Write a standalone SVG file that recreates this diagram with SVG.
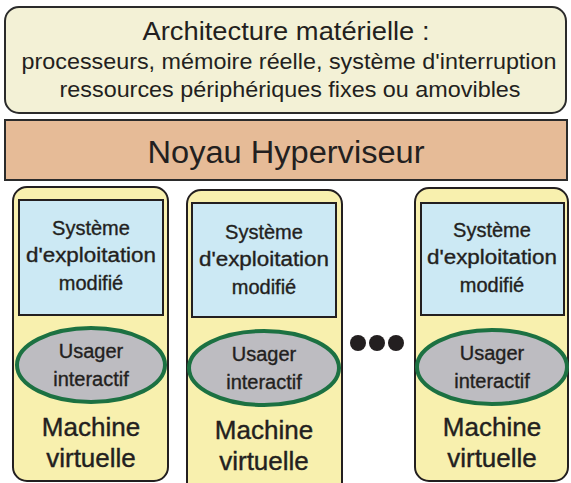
<svg xmlns="http://www.w3.org/2000/svg" width="571" height="483" viewBox="0 0 571 483">
<style>
text{font-family:"Liberation Sans",Arial,sans-serif;fill:#231f20;text-anchor:middle}
.vm{fill:#f8f0ae;stroke:#231f20;stroke-width:2}
.os{fill:#cce9f4;stroke:#231f20;stroke-width:2}
.us{fill:#bdbcc1;stroke:#1c7142;stroke-width:4}
.t20{font-size:20px;stroke:#231f20;stroke-width:0.35}
.t26{font-size:26px;stroke:#231f20;stroke-width:0.4}
</style>
<rect width="571" height="483" fill="#ffffff"/>
<g id="hardware">
<rect x="5" y="7" width="561" height="106" rx="14" fill="#f3f1d6" stroke="#2b2b2b" stroke-width="2"/>
<text x="286" y="40" style="font-size:26px" textLength="287" lengthAdjust="spacingAndGlyphs">Architecture matérielle :</text>
<text x="289" y="69" style="font-size:22px" textLength="535" lengthAdjust="spacingAndGlyphs">processeurs, mémoire réelle, système d'interruption</text>
<text x="290" y="97" style="font-size:22px" textLength="461" lengthAdjust="spacingAndGlyphs">ressources périphériques fixes ou amovibles</text>
</g>
<g id="hypervisor">
<rect x="5" y="120" width="562" height="60" fill="#e6bb97" stroke="#2b2b2b" stroke-width="2"/>
<text x="286" y="163" style="font-size:31px" textLength="277" lengthAdjust="spacingAndGlyphs">Noyau Hyperviseur</text>
</g>
<g id="vm1">
<rect class="vm" x="13" y="187" width="155" height="294" rx="14"/>
<rect class="os" x="19" y="200" width="144" height="115"/>
<text class="t20" x="91" y="235">Système</text>
<text class="t20" x="91" y="262" textLength="130" lengthAdjust="spacingAndGlyphs">d'exploitation</text>
<text class="t20" x="91" y="290">modifié</text>
<ellipse class="us" cx="91" cy="365" rx="74" ry="37"/>
<text class="t20" x="91" y="358">Usager</text>
<text class="t20" x="91" y="386">interactif</text>
<text class="t26" x="91" y="436">Machine</text>
<text class="t26" x="91" y="467">virtuelle</text>
</g>
<g id="vm2">
<rect class="vm" x="187" y="190" width="155" height="310" rx="14"/>
<rect class="os" x="192" y="203" width="144" height="114"/>
<text class="t20" x="264" y="239">Système</text>
<text class="t20" x="264" y="266" textLength="130" lengthAdjust="spacingAndGlyphs">d'exploitation</text>
<text class="t20" x="264" y="294">modifié</text>
<ellipse class="us" cx="264" cy="368" rx="75" ry="37"/>
<text class="t20" x="264" y="361">Usager</text>
<text class="t20" x="264" y="389">interactif</text>
<text class="t26" x="264" y="439">Machine</text>
<text class="t26" x="264" y="470">virtuelle</text>
</g>
<g id="dots">
<circle cx="358" cy="343" r="8" fill="#231f20"/>
<circle cx="377" cy="343" r="8" fill="#231f20"/>
<circle cx="396" cy="343" r="8" fill="#231f20"/>
</g>
<g id="vm3">
<rect class="vm" x="415" y="188" width="153" height="293" rx="14"/>
<rect class="os" x="421" y="203" width="143" height="112"/>
<text class="t20" x="492" y="237">Système</text>
<text class="t20" x="492" y="264" textLength="130" lengthAdjust="spacingAndGlyphs">d'exploitation</text>
<text class="t20" x="492" y="292">modifié</text>
<ellipse class="us" cx="492" cy="367" rx="75" ry="37"/>
<text class="t20" x="492" y="360">Usager</text>
<text class="t20" x="492" y="388">interactif</text>
<text class="t26" x="492" y="436">Machine</text>
<text class="t26" x="492" y="467">virtuelle</text>
</g>
<g id="connectors"></g>
</svg>
